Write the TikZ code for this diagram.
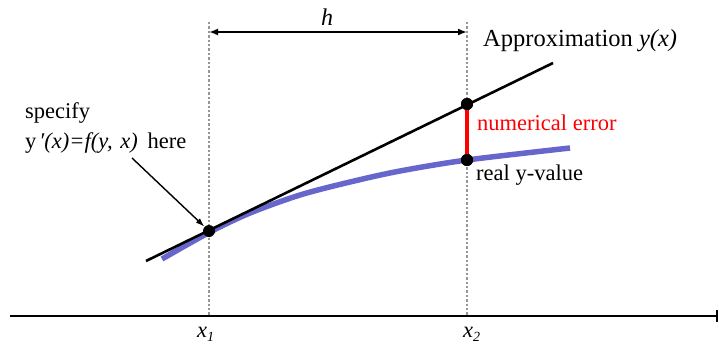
\documentclass[tikz,border=0pt]{standalone}
\usepackage{fontspec}
\setmainfont{Liberation Serif}
\usetikzlibrary{arrows.meta}
\definecolor{curveblue}{RGB}{102,102,204}
\definecolor{guidegray}{RGB}{150,150,150}
\begin{document}
\begin{tikzpicture}[x=1pt,y=-1pt,
  lbl/.style={font=\fontsize{22.5}{27}\selectfont, inner sep=0pt},
  dot/.style={circle,fill=black,inner sep=0pt,minimum size=12pt},
  guide/.style={guidegray, dotted, line width=2.4pt},
  approxline/.style={black, line width=2.6pt},
  realcurve/.style={curveblue, line width=5.5pt},
  errline/.style={red, line width=4pt},
  axisline/.style={black, line width=2.8pt, -{Bar[width=12pt,line width=2pt]}},
  harrow/.style={black, line width=2pt, {Latex[length=9pt,width=7pt]}-{Latex[length=9pt,width=7pt]}},
  pointer/.style={black, line width=1.4pt, -{Latex[length=9pt,width=6pt]}}]
\useasboundingbox (0,0) rectangle (719,345);

% coordinates
\coordinate (g1t) at (209,22);
\coordinate (g1b) at (209,316);
\coordinate (g2t) at (467,22);
\coordinate (g2b) at (467,316);
\coordinate (axL) at (10,316);
\coordinate (axR) at (718,316);
\coordinate (ha) at (209,32);
\coordinate (hb) at (467,32);
\coordinate (la) at (146,261);
\coordinate (lb) at (553,63);
\coordinate (ptail) at (132,158);

% guides
\draw[guide] (g1t) -- (g1b);
\draw[guide] (g2t) -- (g2b);

% axis
\draw[axisline] (axL) -- (axR);

% h dimension
\draw[harrow] (ha) -- (hb);
\node[lbl, anchor=base, font=\fontsize{24}{28}\selectfont] (hlbl) at (327,26) {\textit{h}};

% real curve
\draw[realcurve] plot[smooth] coordinates {(162,259) (210,232) (250,213) (300,195) (350,182) (400,171) (467,160) (570,148)};

% approximation line
\draw[approxline] (la) -- (lb);

% points
\node[dot] (p1) at (209,231) {};
\node[dot] (p2) at (467,104) {};
\node[dot] (p3) at (467,160) {};
\draw[errline] (p2.center) -- (p3.center);
\node[dot] at (p2) {};
\node[dot] at (p3) {};

% labels
\node[lbl, anchor=base west, font=\fontsize{24.5}{29}\selectfont] (approx) at (483,47) {Approximation \textit{y(x)}};
\node[lbl, anchor=base west, text=red] (err) at (477,130) {numerical error};
\node[lbl, anchor=base west] (real) at (476,180) {real y-value};
\node[lbl, anchor=base west] (spec) at (25,118) {specify};
\node[lbl, anchor=base west] (eq) at (25,148) {y\hspace{3pt}\textit{′(x)=f(y,\hspace{2pt} x)}\hspace{10pt}here};

\draw[pointer] (ptail) -- (p1);

\node[lbl, anchor=base west] (x1) at (197,337) {\textit{x}\raisebox{-4pt}{\fontsize{14}{14}\selectfont\textit{1}}};
\node[lbl, anchor=base west] (x2) at (463,337) {\textit{x}\raisebox{-4pt}{\fontsize{14}{14}\selectfont\textit{2}}};
\end{tikzpicture}
\end{document}
